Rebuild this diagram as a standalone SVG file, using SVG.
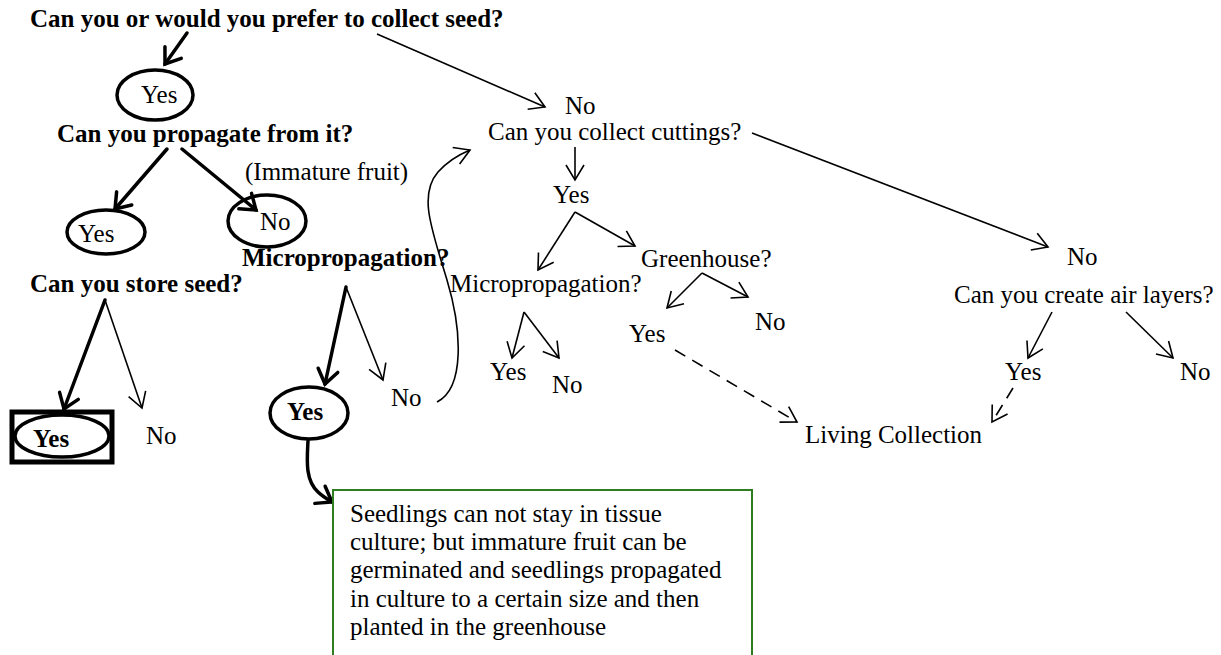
<svg xmlns="http://www.w3.org/2000/svg" width="1221" height="655" viewBox="0 0 1221 655">
  <style>
    text { font-family: "Liberation Serif", "Times New Roman", serif; font-size: 25px; fill: #000; }
    .b { font-weight: bold; }
    .thick { fill: none; stroke: #000; stroke-width: 3.5; stroke-linecap: round; }
    .thin { fill: none; stroke: #000; stroke-width: 1.6; }
    .dash { fill: none; stroke: #000; stroke-width: 1.6; stroke-dasharray: 12 8; }
    .oval { fill: none; stroke: #000; stroke-width: 3.5; }
    .note { fill: #fff; stroke: #2e7d20; stroke-width: 2; }
  </style>
  <defs>
    <marker id="headThick" markerUnits="userSpaceOnUse" viewBox="-20 -12 22 24" refX="0" refY="0" markerWidth="22" markerHeight="24" orient="auto" overflow="visible">
      <path d="M -14 -10 L 0 0 L -14 10" fill="none" stroke="#000" stroke-width="3.5" stroke-linecap="round" stroke-linejoin="miter"/>
    </marker>
    <marker id="headThin" markerUnits="userSpaceOnUse" viewBox="-20 -12 22 24" refX="0" refY="0" markerWidth="22" markerHeight="24" orient="auto" overflow="visible">
      <path d="M -15 -9 L 0 0 L -15 9" fill="none" stroke="#000" stroke-width="1.6"/>
    </marker>
  </defs>

  <rect width="1221" height="655" fill="#fff"/>

  <!-- connectors -->
  <g id="connectors">
    <line class="thick" x1="187" y1="33" x2="165" y2="64" marker-end="url(#headThick)"/>
    <line class="thick" x1="167" y1="149" x2="115" y2="209" marker-end="url(#headThick)"/>
    <line class="thick" x1="182" y1="149" x2="256" y2="210" marker-end="url(#headThick)"/>
    <line class="thick" x1="105" y1="300" x2="64" y2="409" marker-end="url(#headThick)"/>
    <line class="thin" x1="105" y1="300" x2="142" y2="408" marker-end="url(#headThin)"/>
    <line class="thick" x1="346" y1="287" x2="325" y2="384" marker-end="url(#headThick)"/>
    <line class="thin" x1="346" y1="287" x2="383" y2="380" marker-end="url(#headThin)"/>
    <path class="thick" d="M308,441 C307,460 305,480 318,492 C322,496 327,499 332,502" marker-end="url(#headThick)"/>
    <path class="thin" d="M437,402 C465,388 462,330 447,280 C432,230 418,195 438,172 C447,162 458,155 470,150" marker-end="url(#headThin)"/>
    <line class="thin" x1="377" y1="34" x2="545" y2="107" marker-end="url(#headThin)"/>
    <line class="thin" x1="575" y1="147" x2="575" y2="180" marker-end="url(#headThin)"/>
    <line class="thin" x1="575" y1="212" x2="538" y2="270" marker-end="url(#headThin)"/>
    <line class="thin" x1="575" y1="212" x2="635" y2="246" marker-end="url(#headThin)"/>
    <line class="thin" x1="524" y1="312" x2="512" y2="358" marker-end="url(#headThin)"/>
    <line class="thin" x1="524" y1="312" x2="559" y2="358" marker-end="url(#headThin)"/>
    <line class="thin" x1="702" y1="273" x2="667" y2="308" marker-end="url(#headThin)"/>
    <line class="thin" x1="702" y1="273" x2="748" y2="297" marker-end="url(#headThin)"/>
    <line class="dash" x1="675" y1="350" x2="797" y2="422" marker-end="url(#headThin)"/>
    <line class="thin" x1="752" y1="133" x2="1048" y2="247" marker-end="url(#headThin)"/>
    <line class="thin" x1="1052" y1="312" x2="1028" y2="358" marker-end="url(#headThin)"/>
    <line class="thin" x1="1126" y1="312" x2="1173" y2="358" marker-end="url(#headThin)"/>
    <line class="dash" x1="1013" y1="388" x2="992" y2="422" marker-end="url(#headThin)"/>
  </g>

  <!-- seed branch -->
  <g id="q-collect-seed">
    <text class="b" x="30" y="27">Can you or would you prefer to collect seed?</text>
  </g>
  <g id="seed-yes">
    <ellipse class="oval" cx="155" cy="95" rx="38" ry="25"/>
    <text x="141" y="103">Yes</text>
  </g>
  <g id="q-propagate">
    <text class="b" x="57" y="142">Can you propagate from it?</text>
  </g>
  <g id="propagate-yes">
    <ellipse class="oval" cx="106" cy="232" rx="39" ry="22"/>
    <text x="78" y="242">Yes</text>
  </g>
  <g id="immature-fruit">
    <text x="245" y="180">(Immature fruit)</text>
  </g>
  <g id="propagate-no">
    <ellipse class="oval" cx="267" cy="221" rx="39" ry="26"/>
    <text x="260" y="230">No</text>
  </g>
  <g id="q-store">
    <text class="b" x="30" y="292">Can you store seed?</text>
  </g>
  <g id="store-yes">
    <rect x="12" y="412" width="100" height="50" fill="none" stroke="#000" stroke-width="5"/>
    <ellipse class="oval" cx="62" cy="436" rx="47" ry="21"/>
    <text class="b" x="33" y="447">Yes</text>
  </g>
  <g id="store-no">
    <text x="146" y="444">No</text>
  </g>
  <g id="q-micro-bold">
    <text class="b" x="242" y="266">Micropropagation?</text>
  </g>
  <g id="micro-yes">
    <ellipse class="oval" cx="309" cy="413" rx="39" ry="26"/>
    <text class="b" x="287" y="420">Yes</text>
  </g>
  <g id="micro-no">
    <text x="391" y="406">No</text>
  </g>
  <g id="note">
    <rect class="note" x="333" y="490" width="419" height="180"/>
    <text x="350" y="522">Seedlings can not stay in tissue</text>
    <text x="350" y="550">culture; but immature fruit can be</text>
    <text x="350" y="578">germinated and seedlings propagated</text>
    <text x="350" y="607">in culture to a certain size and then</text>
    <text x="350" y="635">planted in the greenhouse</text>
  </g>

  <!-- cuttings branch -->
  <g id="seed-no">
    <text x="565" y="114">No</text>
  </g>
  <g id="q-cuttings">
    <text x="488" y="140">Can you collect cuttings?</text>
  </g>
  <g id="cuttings-yes">
    <text x="553" y="203">Yes</text>
  </g>
  <g id="q-greenhouse">
    <text x="641" y="267">Greenhouse?</text>
  </g>
  <g id="q-micro">
    <text x="450" y="292">Micropropagation?</text>
  </g>
  <g id="cut-micro-yes">
    <text x="490" y="380">Yes</text>
  </g>
  <g id="cut-micro-no">
    <text x="552" y="393">No</text>
  </g>
  <g id="greenhouse-yes">
    <text x="629" y="342">Yes</text>
  </g>
  <g id="greenhouse-no">
    <text x="755" y="330">No</text>
  </g>

  <!-- air layer branch -->
  <g id="cuttings-no">
    <text x="1067" y="265">No</text>
  </g>
  <g id="q-air-layers">
    <text x="954" y="303">Can you create air layers?</text>
  </g>
  <g id="air-yes">
    <text x="1005" y="380">Yes</text>
  </g>
  <g id="air-no">
    <text x="1180" y="380">No</text>
  </g>
  <g id="living-collection">
    <text x="805" y="443">Living Collection</text>
  </g>
</svg>
